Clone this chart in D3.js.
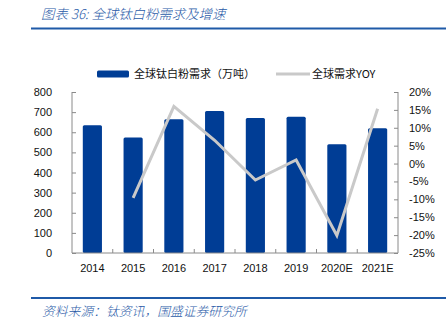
<!DOCTYPE html>
<html><head><meta charset="utf-8">
<script src="https://cdn.jsdelivr.net/npm/d3@7"></script>
<style>
html,body{margin:0;padding:0;background:#fff;}
svg{display:block;}
</style></head>
<body>
<svg id="c" width="446" height="327"></svg>
<script>
const categories = ["2014","2015","2016","2017","2018","2019","2020E","2021E"];
const demand = [635, 574, 664, 705, 671, 677, 540, 620];
const yoy = [null, -9.6, 16.0, 6.5, -4.6, 1.0, -20.1, 15.3];
const leftTicks = [0,100,200,300,400,500,600,700,800];
const rightTicks = [-25,-20,-15,-10,-5,0,5,10,15,20];
const titleText = "图表 36:  全球钛白粉需求及增速";
const sourceText = "资料来源：钛资讯，国盛证券研究所";
const legendBar = "全球钛白粉需求（万吨）";
const legendLine = "全球需求YOY";

const svg = d3.select("#c");
const blue = "#003d95";
const gray = "#c9c9c9";
const axisCol = "#8a8a8a";
const font = "'Liberation Sans', Arial, sans-serif";
const cjk = "'Noto Sans CJK SC', sans-serif";

const pL = 72, pR = 398, pT = 92, pB = 253;
const x = d3.scaleBand().domain(categories).range([pL, pR]).paddingInner(0.53).paddingOuter(0.265);
const xs = d3.scaleBand().domain(categories).range([pL, pR]);
const y = d3.scaleLinear().domain([0, 800]).range([pB, pT]);
const y2 = d3.scaleLinear().domain([-25, 20]).range([pB, pT]);

// header
svg.append("text").attr("x", 41).attr("y", 19).text(titleText)
  .attr("font-family", cjk).attr("font-size", 13.4).attr("font-style", "italic")
  .attr("font-weight", 300).attr("fill", "#2a5ba8");
svg.append("line").attr("x1", 31).attr("x2", 446).attr("y1", 28.5).attr("y2", 28.5)
  .attr("stroke", "#1f5aa8").attr("stroke-width", 2);

// footer
svg.append("line").attr("x1", 31).attr("x2", 446).attr("y1", 298).attr("y2", 298)
  .attr("stroke", "#1f5aa8").attr("stroke-width", 2);
svg.append("text").attr("x", 42).attr("y", 316).text(sourceText)
  .attr("font-family", cjk).attr("font-size", 12.8).attr("font-style", "italic")
  .attr("font-weight", 300).attr("fill", "#2a5ba8");

// legend
svg.append("rect").attr("x", 97).attr("y", 70.5).attr("width", 32).attr("height", 7).attr("rx", 1.5).attr("fill", blue);
svg.append("text").attr("x", 134).attr("y", 78).text(legendBar)
  .attr("font-family", cjk).attr("font-size", 11).attr("fill", "#111");
svg.append("line").attr("x1", 276).attr("x2", 310).attr("y1", 74).attr("y2", 74)
  .attr("stroke", gray).attr("stroke-width", 3);
svg.append("text").attr("x", 312).attr("y", 78).text(legendLine)
  .attr("font-family", cjk).attr("font-size", 11).attr("fill", "#111");

// bars
svg.append("g").selectAll("rect").data(categories).join("rect")
  .attr("x", d => x(d)).attr("width", x.bandwidth())
  .attr("y", (d,i) => y(demand[i])).attr("height", (d,i) => pB - y(demand[i]))
  .attr("rx", 1.5).attr("fill", blue);

// axes
const gL = svg.append("g").attr("transform", `translate(${pL},0)`)
  .call(d3.axisRight(y).tickValues(leftTicks).tickSize(4).tickFormat(""));
const gR = svg.append("g").attr("transform", `translate(${pR},0)`)
  .call(d3.axisLeft(y2).tickValues(rightTicks).tickSize(4).tickFormat(""));
const gB = svg.append("g").attr("transform", `translate(0,${pB})`)
  .call(d3.axisTop(xs).tickValues(categories.slice(1)).tickSize(4).tickFormat("").offset(0));
gB.selectAll(".tick").attr("transform", d => `translate(${xs(d)},0)`);
[gL, gR, gB].forEach(g => {
  g.select(".domain").attr("stroke", axisCol);
  g.selectAll(".tick line").attr("stroke", axisCol);
});
gB.select(".domain").attr("d", `M${pL},0H${pR}`);
gL.select(".domain").attr("d", `M0,${pT}V${pB}`);
gR.select(".domain").attr("d", `M0,${pT}V${pB}`);

// tick labels
svg.append("g").selectAll("text").data(leftTicks).join("text")
  .attr("x", 52).attr("y", d => y(d) + 4).attr("text-anchor", "end").text(d => d)
  .attr("font-family", font).attr("font-size", 11).attr("fill", "#111");
svg.append("g").selectAll("text").data(rightTicks).join("text")
  .attr("x", 409).attr("y", d => y2(d) + 4).text(d => d + "%")
  .attr("font-family", font).attr("font-size", 11).attr("fill", "#111");
svg.append("g").selectAll("text").data(categories).join("text")
  .attr("x", d => xs(d) + xs.bandwidth()/2).attr("y", 272).attr("text-anchor", "middle").text(d => d)
  .attr("font-family", font).attr("font-size", 11).attr("fill", "#111");

// line
const pts = categories.map((c,i) => [c, yoy[i]]).filter(p => p[1] !== null);
svg.append("path").datum(pts)
  .attr("d", d3.line().x(p => xs(p[0]) + xs.bandwidth()/2).y(p => y2(p[1])))
  .attr("fill", "none").attr("stroke", gray).attr("stroke-width", 3).attr("stroke-linejoin", "miter");
</script>
</body></html>
